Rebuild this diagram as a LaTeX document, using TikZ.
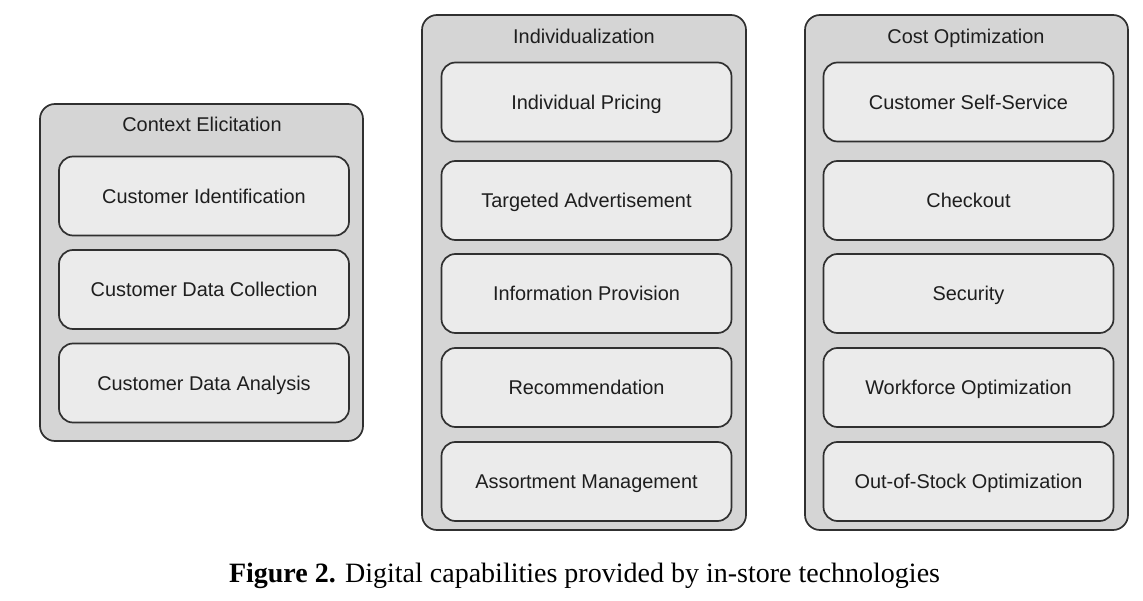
\documentclass[tikz,border=0pt]{standalone}
\usepackage{fontspec}
\setmainfont{Liberation Serif}
\setsansfont{Liberation Sans}
\definecolor{outerfill}{HTML}{D5D5D5}
\definecolor{innerfill}{HTML}{EBEBEB}
\definecolor{edge}{HTML}{303030}
\definecolor{txt}{HTML}{1E1E1E}
\tikzset{
  groupbox/.style={draw=edge, fill=outerfill, line width=1.7pt, rounded corners=15pt, inner sep=0pt},
  capbox/.style={draw=edge, fill=innerfill, line width=1.7pt, rounded corners=14pt, inner sep=0pt,
    minimum width=290pt, minimum height=79pt, text=txt, text height=14.3pt, text depth=0pt,
    font=\sffamily\fontsize{19.9}{23}\selectfont},
  grouptitle/.style={text=txt, inner sep=0pt, text height=14.3pt, text depth=0pt,
    font=\sffamily\fontsize{19.9}{23}\selectfont},
  captiontext/.style={inner sep=0pt, text height=18.5pt, text depth=0pt,
    font=\rmfamily\fontsize{28}{32}\selectfont}
}
\begin{document}
\begin{tikzpicture}[x=1pt,y=-1pt]
\useasboundingbox (0,0) rectangle (1143,601);
% outer group boxes
\node[groupbox, minimum width=323pt, minimum height=337pt] (g1) at (201.5,272.5) {};
\node[groupbox, minimum width=324pt, minimum height=515pt] (g2) at (584,272.5) {};
\node[groupbox, minimum width=323pt, minimum height=515pt] (g3) at (966.5,272.5) {};
% titles
\node[grouptitle] (t1) at (202,124.5) {Context Elicitation};
\node[grouptitle] (t2) at (584,36.5) {Individualization};
\node[grouptitle] (t3) at (966,36.5) {Cost Optimization};
% context elicitation
\node[capbox] (c1) at (204,196) {Customer Identification};
\node[capbox] (c2) at (204,289.5) {Customer Data Collection};
\node[capbox] (c3) at (204,383) {Customer Data Analysis};
% individualization
\node[capbox] (i1) at (586.5,102) {Individual Pricing};
\node[capbox] (i2) at (586.5,200.5) {Targeted Advertisement};
\node[capbox] (i3) at (586.5,293.5) {Information Provision};
\node[capbox] (i4) at (586.5,387.5) {Recommendation};
\node[capbox] (i5) at (586.5,481.5) {Assortment Management};
% cost optimization
\node[capbox] (o1) at (968.5,102) {Customer Self-Service};
\node[capbox] (o2) at (968.5,200.5) {Checkout};
\node[capbox] (o3) at (968.5,293.5) {Security};
\node[capbox] (o4) at (968.5,387.5) {Workforce Optimization};
\node[capbox] (o5) at (968.5,481.5) {Out-of-Stock Optimization};
% caption
\node[captiontext] (cap) at (584.5,573.5) {\textbf{Figure 2.} Digital capabilities provided by in-store technologies};
\end{tikzpicture}
\end{document}
